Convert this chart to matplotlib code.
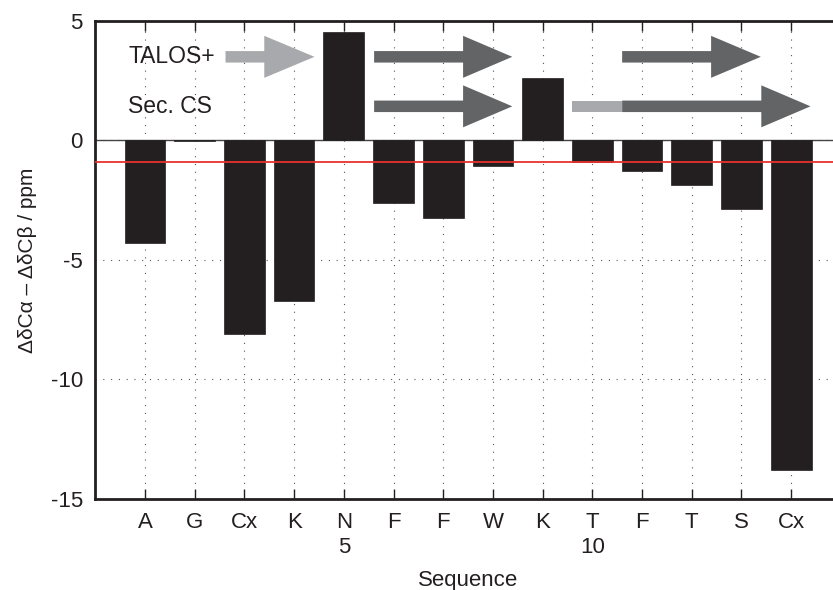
import matplotlib.pyplot as plt
from matplotlib.patches import FancyArrow, Rectangle

plt.rcParams['font.family'] = ['Liberation Sans', 'DejaVu Sans']
plt.rcParams['axes.unicode_minus'] = False

# residues and secondary chemical shift differences
residues = ['A', 'G', 'Cx', 'K', 'N', 'F', 'F', 'W', 'K', 'T', 'F', 'T', 'S', 'Cx']
positions = list(range(1, 15))
dd_shift = [-4.30, -0.05, -8.11, -6.70, 4.51, -2.62, -3.23, -1.06, 2.60,
            -0.89, -1.30, -1.85, -2.87, -13.80]
threshold = -0.92

# strand predictions: (start, head start, tip) in residue units
talos_light = [(2.62, 3.40, 4.41)]
talos_dark = [(5.61, 7.40, 8.39), (10.60, 12.39, 13.39)]
seccs_dark = [(5.61, 7.40, 8.39), (10.60, 13.40, 14.39)]
seccs_light_bar = [(9.60, 10.60)]
talos_y = 3.49
seccs_y = 1.42

light = '#a7a9ac'
dark = '#636466'
ink = '#231f20'

fig = plt.figure(figsize=(8.33, 5.90), dpi=100)
ax = fig.add_axes([0.1144, 0.1542, 0.895, 0.8107])

ax.bar(positions, dd_shift, width=0.82, color=ink, edgecolor=ink,
       linewidth=0.5, zorder=3)
ax.axhline(0, color='#444444', lw=1.0, zorder=2)
ax.axhline(threshold, color='#e8312a', lw=1.3, zorder=4)


def draw_arrow(start, head, tip, y, color):
    ax.add_patch(FancyArrow(start, y, tip - start, 0, width=0.48,
                            head_width=1.755, head_length=tip - head,
                            length_includes_head=True, color=color,
                            lw=0, zorder=3))


for s, h, t in talos_light:
    draw_arrow(s, h, t, talos_y, light)
for s, h, t in talos_dark:
    draw_arrow(s, h, t, talos_y, dark)
for s, h, t in seccs_dark:
    draw_arrow(s, h, t, seccs_y, dark)
for s, e in seccs_light_bar:
    ax.add_patch(Rectangle((s, seccs_y - 0.24), e - s, 0.48, color=light,
                           lw=0, zorder=3))

ax.text(0.66, talos_y, 'TALOS+', fontsize=16.5, va='center', ha='left', color=ink)
ax.text(0.66, seccs_y, 'Sec. CS', fontsize=16.5, va='center', ha='left', color=ink)

ax.set_xlim(0, 15)
ax.set_ylim(-15, 5)
ax.set_yticks([5, 0, -5, -10, -15])
ax.set_xticks(positions)
labels = []
for p, r in zip(positions, residues):
    labels.append(r + '\n' + str(p) if p % 5 == 0 else r)
ax.set_xticklabels(labels, fontsize=16, linespacing=1.25, va='top')
ax.tick_params(axis='y', labelsize=16, length=0, pad=9, colors=ink)
ax.tick_params(axis='x', direction='in', length=7, width=1, top=True,
               pad=9, color=ink, labelcolor=ink)

ax.grid(True, linestyle=(0, (1, 6)), color='#555555', lw=0.8, zorder=0)
ax.set_axisbelow(True)
for sp in ax.spines.values():
    sp.set_linewidth(2)
    sp.set_color(ink)

ax.set_ylabel('ΔδCα – ΔδCβ / ppm', fontsize=15, labelpad=10, color=ink)
ax.set_xlabel('Sequence', fontsize=16, labelpad=9, color=ink)

fig.savefig('out.png', dpi=100)
